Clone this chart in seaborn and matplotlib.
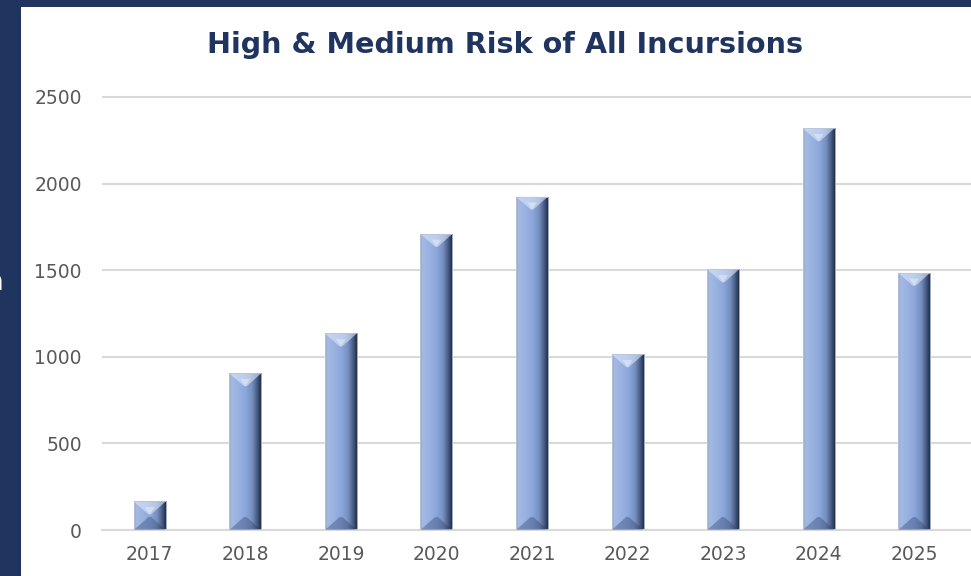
import numpy as np
import pandas as pd
import seaborn as sns
import matplotlib.pyplot as plt
from matplotlib.colors import LinearSegmentedColormap
from matplotlib.patches import Rectangle, Polygon

years = ["2017", "2018", "2019", "2020", "2021", "2022", "2023", "2024", "2025"]
incursions = [165, 905, 1135, 1710, 1925, 1015, 1505, 2320, 1485]
y_ticks = [0, 500, 1000, 1500, 2000, 2500]
title = "High & Medium Risk of All Incursions"

navy = "#1F3560"
grid_col = "#D9D9D9"
tick_col = "#595959"

sns.set_theme(style="white")
plt.rcParams["font.family"] = ["DejaVu Sans"]

W, H = 971, 576
fig = plt.figure(figsize=(W / 100, H / 100), dpi=100, facecolor="white")

# slide frame: navy band on the left and along the top
fig.patches.append(Rectangle((0, 0), 21 / W, 1, transform=fig.transFigure,
                             facecolor=navy, edgecolor="none", zorder=0))
fig.patches.append(Rectangle((0, 1 - 7 / H), 1, 7 / H, transform=fig.transFigure,
                             facecolor=navy, edgecolor="none", zorder=0))
fig.text(3 / W, 1 - 283 / H, "n", color="white", fontsize=19, ha="right", va="center")

ymax = 2550
ax_left, ax_bottom = 102, 46
ax_w = W - ax_left
ax_h = 433 * ymax / 2500
ax = fig.add_axes([ax_left / W, ax_bottom / H, ax_w / W, ax_h / H])
ax.set_facecolor("white")

df = pd.DataFrame({"year": years, "count": incursions})
sns.barplot(data=df, x="year", y="count", width=0.335, color="#8FAADC",
            ax=ax, zorder=2, saturation=1)

xlim = (-0.5, 8.5 + 9 / 95.5)
ppx = ax_w / (xlim[1] - xlim[0])
ppy = ax_h / ymax

# horizontal shading of the bars
bar_cmap = LinearSegmentedColormap.from_list("bar", [
    (0.0, "#8597BB"), (0.06, "#A6BAE0"), (0.25, "#9AB3E3"), (0.5, "#8CA7DA"),
    (0.7, "#7690C0"), (0.85, "#4A5E86"), (1.0, "#18223A")])
grad = np.linspace(0, 1, 256).reshape(1, -1)

for patch in ax.patches:
    x0, w, h = patch.get_x(), patch.get_width(), patch.get_height()
    x1 = x0 + w
    patch.set_facecolor("none")
    im = ax.imshow(grad, cmap=bar_cmap, extent=[x0, x1, 0, h], aspect="auto",
                   interpolation="bilinear", zorder=2)
    im.set_clip_path(patch)
    dy = min(13 / ppy, h / 2)
    inset = 0.46 * w
    # bevel on the top: light, on the bottom: dark
    ax.add_patch(Polygon([(x0, h), (x1, h), (x1 - inset, h - dy), (x0 + inset, h - dy)],
                         closed=True, facecolor="#DCE7FA", alpha=0.6, edgecolor="none", zorder=3))
    ax.add_patch(Polygon([(x0 + 0.35 * w, h - 0.45 * dy), (x0 + 0.65 * w, h - 0.45 * dy),
                          (x0 + 0.5 * w, h - dy)],
                         closed=True, facecolor="white", alpha=0.35, edgecolor="none", zorder=3))
    ax.add_patch(Polygon([(x0, 0), (x1, 0), (x1 - inset, dy), (x0 + inset, dy)],
                         closed=True, facecolor="#243A66", alpha=0.35, edgecolor="none", zorder=3))
    ax.add_patch(Rectangle((x0, 0), w, h, facecolor="none", edgecolor="#B9C6DD",
                           linewidth=0.6, zorder=3))

ax.set_xlim(*xlim)
ax.set_ylim(0, ymax)
ax.set_yticks(y_ticks)
ax.yaxis.grid(True, color=grid_col, linewidth=1.5, zorder=0)
ax.set_axisbelow(True)
for s in ["left", "right", "top"]:
    ax.spines[s].set_visible(False)
ax.spines["bottom"].set_color(grid_col)
ax.spines["bottom"].set_linewidth(1.5)
ax.set_xlabel("")
ax.set_ylabel("")
ax.tick_params(axis="y", length=0, pad=14.5, labelsize=13.5, labelcolor=tick_col)
ax.tick_params(axis="x", length=0, pad=11, labelsize=13.5, labelcolor=tick_col)

t = fig.text(505 / W, 1 - 45 / H, title, ha="center", va="center",
             fontsize=20, fontweight="bold", color=navy)
fig.canvas.draw()
tw = t.get_window_extent().width
t.set_fontsize(20 * 596 / tw)

fig.savefig("out.png", dpi=100, facecolor="white")
